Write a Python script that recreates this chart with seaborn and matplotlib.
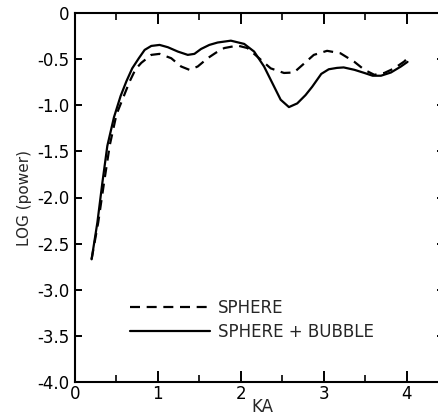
import matplotlib
matplotlib.use("Agg")
import matplotlib.pyplot as plt
import pandas as pd
import seaborn as sns

# Log power versus KA for a bare sphere and for a sphere with a bubble
ka_sphere = [0.20, 0.28, 0.35, 0.42, 0.50, 0.58, 0.66, 0.73, 0.80, 0.92, 1.02,
             1.16, 1.28, 1.38, 1.48, 1.60, 1.70, 1.80, 1.96, 2.08, 2.22, 2.36,
             2.52, 2.64, 2.76, 2.88, 3.04, 3.20, 3.37, 3.49, 3.61, 3.73, 3.85,
             3.97, 4.01]
logp_sphere = [-2.67, -2.27, -1.84, -1.43, -1.10, -0.92, -0.74, -0.61, -0.54,
               -0.454, -0.443, -0.49, -0.58, -0.616, -0.58, -0.49, -0.43, -0.38,
               -0.353, -0.38, -0.49, -0.60, -0.65, -0.645, -0.55, -0.454, -0.41,
               -0.436, -0.53, -0.616, -0.67, -0.65, -0.60, -0.526, -0.49]

ka_bubble = [0.20, 0.27, 0.33, 0.39, 0.47, 0.55, 0.62, 0.69, 0.77, 0.84, 0.92,
             1.02, 1.12, 1.24, 1.36, 1.44, 1.52, 1.62, 1.72, 1.88, 2.04, 2.16,
             2.28, 2.38, 2.48, 2.58, 2.68, 2.78, 2.86, 2.97, 3.06, 3.16, 3.24,
             3.37, 3.49, 3.59, 3.69, 3.81, 3.93, 4.01]
logp_bubble = [-2.67, -2.27, -1.84, -1.44, -1.13, -0.90, -0.74, -0.60, -0.49,
               -0.40, -0.357, -0.346, -0.371, -0.418, -0.454, -0.443, -0.39,
               -0.346, -0.32, -0.30, -0.335, -0.418, -0.58, -0.76, -0.94, -1.02,
               -0.98, -0.89, -0.80, -0.66, -0.61, -0.595, -0.59, -0.616, -0.65,
               -0.68, -0.68, -0.645, -0.58, -0.53]

series_names = ["SPHERE", "SPHERE + BUBBLE"]

x_ticks = [0, 1, 2, 3, 4]
x_tick_labels = ["0", "1", "2", "3", "4"]
x_minor_ticks = [0.5, 1.5, 2.5, 3.5]
y_ticks = [0, -0.5, -1.0, -1.5, -2.0, -2.5, -3.0, -3.5, -4.0]
y_tick_labels = ["0", "-0.5", "-1.0", "-1.5", "-2.0", "-2.5", "-3.0", "-3.5", "-4.0"]

df = pd.concat([
    pd.DataFrame({"KA": ka_sphere, "logp": logp_sphere, "curve": series_names[0]}),
    pd.DataFrame({"KA": ka_bubble, "logp": logp_bubble, "curve": series_names[1]}),
], ignore_index=True)

sns.set_style("ticks")
plt.rcParams["font.family"] = ["DejaVu Sans"]

fig = plt.figure(figsize=(4.39, 4.18), dpi=100)
ax = fig.add_axes([75 / 439, 36 / 418, 369 / 439, 369 / 418])

sns.lineplot(data=df, x="KA", y="logp", style="curve", style_order=series_names,
             dashes={series_names[0]: (4.5, 3), series_names[1]: ""},
             color="black", linewidth=1.6, estimator=None, sort=False, ax=ax)
for line in ax.get_lines():
    line.set_solid_joinstyle("round")
    line.set_dash_joinstyle("round")

ax.set_xlim(0, 4.45)
ax.set_ylim(-4, 0)
ax.set_xticks(x_ticks)
ax.set_xticklabels(x_tick_labels)
ax.set_xticks(x_minor_ticks, minor=True)
ax.set_yticks(y_ticks)
ax.set_yticklabels(y_tick_labels)

for side in ["left", "right", "top", "bottom"]:
    ax.spines[side].set_visible(True)
    ax.spines[side].set_color("black")
    ax.spines[side].set_linewidth(1.5)

ax.tick_params(axis="x", which="major", direction="in", length=8, width=1.4,
               top=True, bottom=True, labelsize=12, pad=2.5, colors="black")
ax.tick_params(axis="x", which="minor", direction="in", length=5, width=1.4,
               top=True, bottom=True)
ax.tick_params(axis="y", which="major", direction="in", length=5, width=1.4,
               left=True, right=True, labelsize=12, pad=4, colors="black")

ax.set_xlabel("KA", fontsize=12)
ax.xaxis.set_label_coords(0.507, -0.043)
ax.set_ylabel("LOG (power)", fontsize=11, labelpad=4)

handles, labels = ax.get_legend_handles_labels()
pairs = [(h, l) for h, l in zip(handles, labels) if l in series_names]
ax.legend([p[0] for p in pairs], [p[1] for p in pairs],
          loc="upper left", bbox_to_anchor=(0.149, 0.226), frameon=False,
          borderaxespad=0, borderpad=0, handlelength=4.8, handletextpad=0.5,
          labelspacing=0.38, fontsize=12)

fig.savefig("out.png", dpi=100)
